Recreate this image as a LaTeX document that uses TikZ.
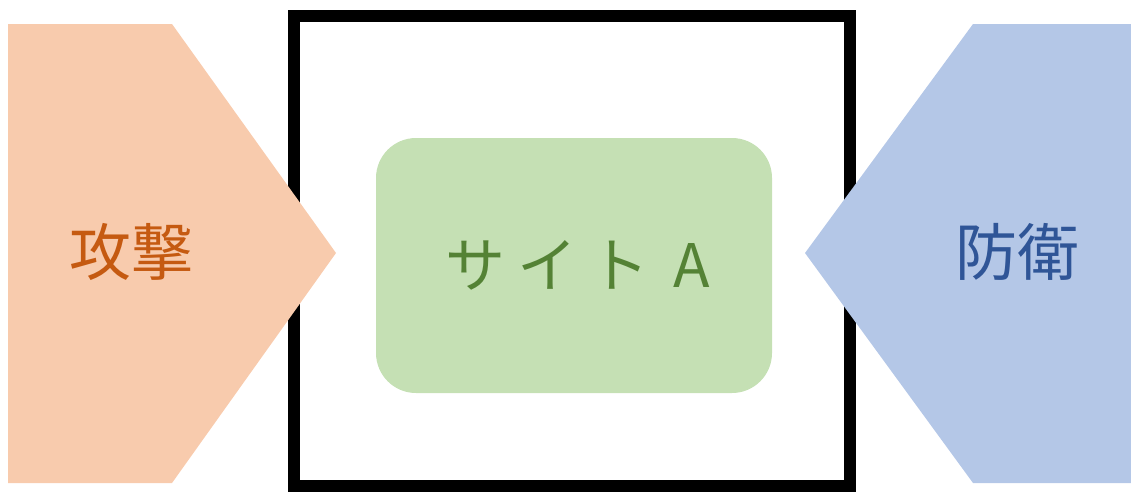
\documentclass[tikz,border=0pt]{standalone}
\usepackage{fontspec}
\newfontfamily\jpfont{Noto Sans CJK JP}
\definecolor{orfill}{HTML}{F8CBAD}
\definecolor{ortext}{HTML}{C55A11}
\definecolor{blfill}{HTML}{B4C7E7}
\definecolor{bltext}{HTML}{2F5597}
\definecolor{grfill}{HTML}{C5E0B4}
\definecolor{grtext}{HTML}{548235}
\tikzset{
  label text/.style={inner sep=0pt, font=\jpfont\fontsize{62}{68}\selectfont},
}
\begin{document}
\begin{tikzpicture}[x=1pt,y=-1pt]
\useasboundingbox (0,0) rectangle (1131,493);
% frame
\draw[line width=12pt, black] (294,16) rectangle (850,486);
% green site box
\fill[grfill, rounded corners=40pt] (376,138) rectangle (772,393);
% attack pentagon
\fill[orfill] (8,24) -- (172,24) -- (336,253) -- (172,483) -- (8,483) -- cycle;
% defense pentagon
\fill[blfill] (1131,24) -- (973,24) -- (805,253) -- (973,483) -- (1131,483) -- cycle;
% texts
\node[label text, text=ortext] (atk) at (131,252) {攻撃};
\node[label text, text=bltext] (def) at (1017,252) {防衛};
\node[label text, text=grtext, font=\jpfont\fontsize{60}{66}\selectfont] (site) at (578,265) {サ\hspace{12pt}イ\hspace{12pt}ト\hspace{24pt}A};
\end{tikzpicture}
\end{document}
